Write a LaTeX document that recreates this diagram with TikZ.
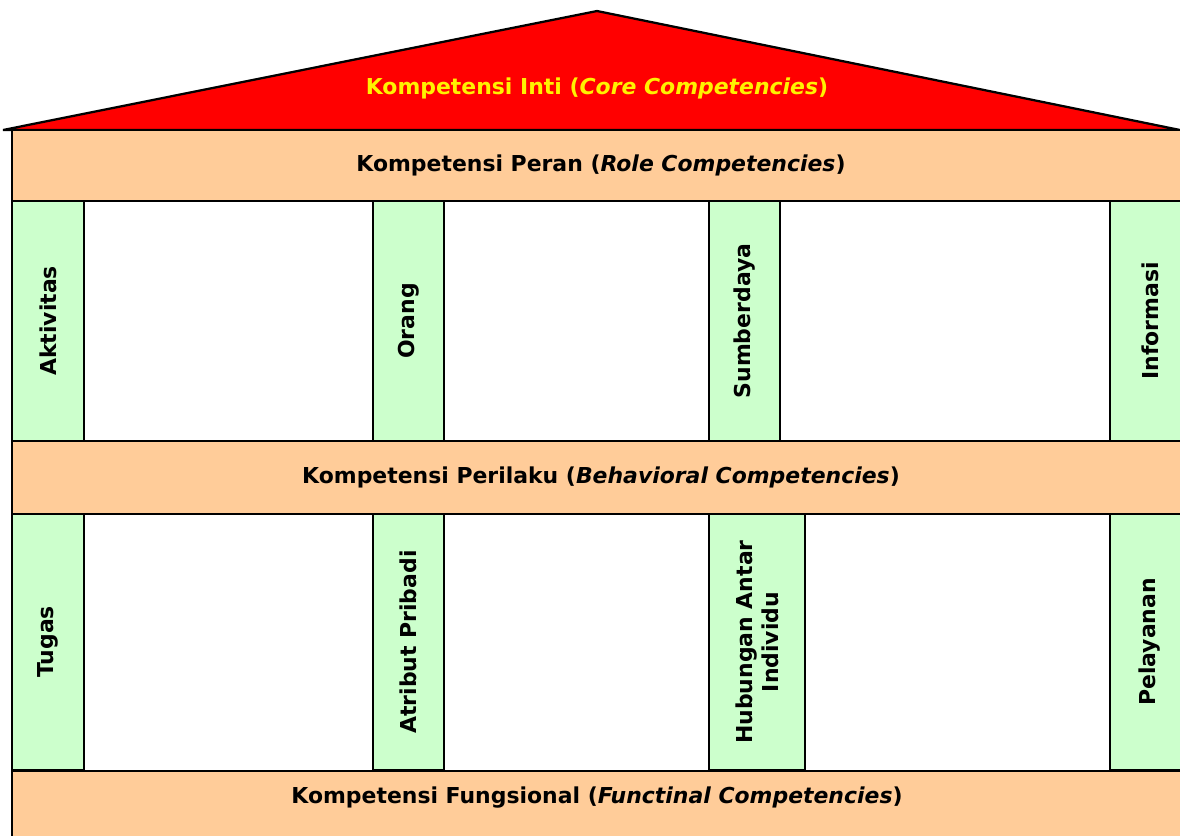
\documentclass[tikz,border=0pt]{standalone}
\usepackage{fontspec}
\setmainfont{DejaVu Sans}
\definecolor{roofred}{HTML}{FF0000}
\definecolor{barorange}{HTML}{FFCC99}
\definecolor{colgreen}{HTML}{CCFFCC}
\begin{document}
\begin{tikzpicture}[x=0.025cm,y=-0.025cm,
    bar/.style={draw=black,line width=1.6pt,fill=barorange,minimum width=29.45cm,inner sep=0pt},
    pillar/.style={draw=black,line width=1.6pt,fill=colgreen,inner sep=0pt,rotate=90},
    lbl/.style={font=\bfseries\fontsize{15.6}{18.5}\selectfont}]
   \useasboundingbox (0,0) rectangle (1180,836);
   % roof
   \coordinate (roofl) at (3,130);
   \coordinate (roofr) at (1180,130);
   \coordinate (apex) at (597,11);
   \draw[line width=1.6pt,fill=roofred] (roofl) -- (apex) -- (roofr) -- cycle;
   \node[lbl,text=yellow] (inti) at (597,88) {Kompetensi Inti (\textit{Core Competencies})};
   % bars
   \begin{scope}[every node/.style={bar,lbl}]
    \node[minimum height=1.775cm] (peran) at (601,165.5) {Kompetensi Peran (\textit{Role Competencies})};
    \node[minimum height=1.825cm] (perilaku) at (601,477.5) {Kompetensi Perilaku (\textit{Behavioral Competencies})};
    \node[minimum height=2cm,anchor=north] (fungsional) at (601,770) {};
   \end{scope}
   \node[lbl] (fungsionaltxt) at (597,798) {Kompetensi Fungsional (\textit{Functinal Competencies})};
   % upper pillars
   \begin{scope}[every node/.style={pillar,lbl,minimum width=6cm}]
    \node[minimum height=1.8cm] (aktivitas) at (48,321) {Aktivitas};
    \node[minimum height=1.775cm] (orang) at (408.5,321) {Orang};
    \node[minimum height=1.775cm] (sumberdaya) at (744.5,321) {Sumberdaya};
    \node[minimum height=2cm] (informasi) at (1150,321) {Informasi};
   \end{scope}
   % lower pillars
   \begin{scope}[every node/.style={pillar,lbl,minimum width=6.4cm}]
    \node[minimum height=1.8cm] (tugas) at (48,642) {Tugas};
    \node[minimum height=1.775cm] (atribut) at (408.5,642) {Atribut Pribadi};
    \node[minimum height=2.4cm,align=center] (hubungan) at (757,642) {Hubungan Antar\\Individu};
    \node[minimum height=2cm] (pelayanan) at (1150,642) {Pelayanan};
   \end{scope}
\end{tikzpicture}
\end{document}
